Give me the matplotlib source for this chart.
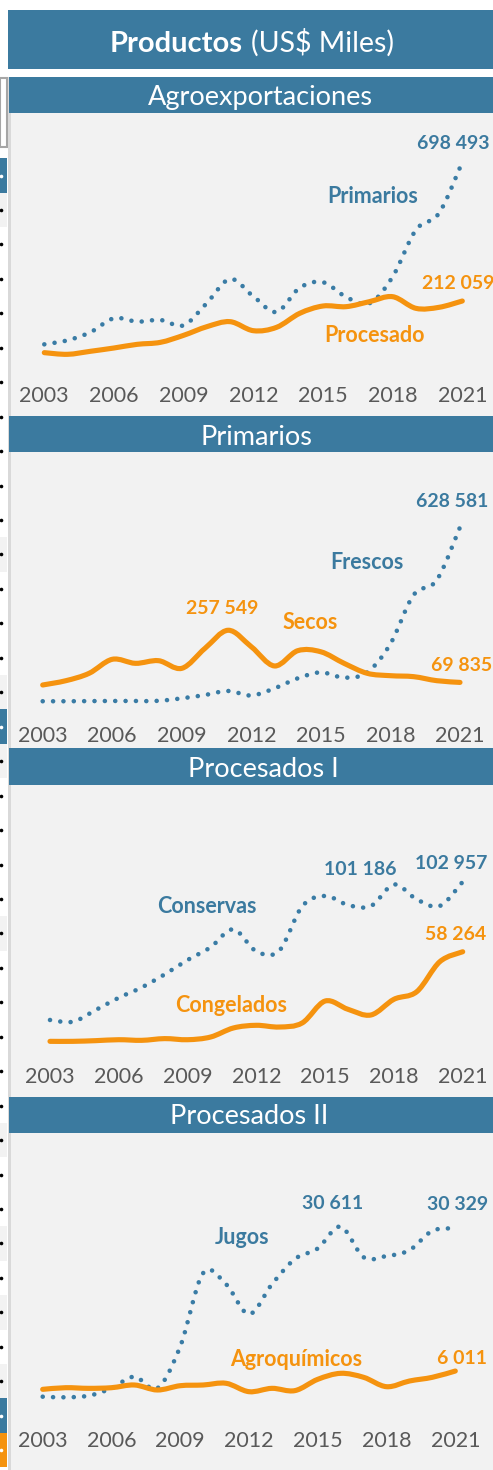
import matplotlib
matplotlib.use("Agg")
import matplotlib.pyplot as plt
from matplotlib.path import Path
from matplotlib.patches import PathPatch, Rectangle
import numpy as np

# ---------------- data (US$ miles) ----------------
years = list(range(2003, 2022))
tick_years = [2003, 2006, 2009, 2012, 2015, 2018, 2021]

agro_primarios = [60400, 74400, 103600, 151700, 139800, 145600, 127000, 205000, 289000,
                  228600, 173600, 258600, 277600, 226000, 204000, 297000, 460600, 520000, 698493]
agro_procesado = [31300, 25500, 36200, 47600, 60400, 67400, 92000, 122200, 139800,
                  108200, 119900, 169000, 194600, 192300, 209800, 227200, 186500, 190000, 212059]

prim_frescos = [2000, 2000, 2500, 3000, 3000, 3500, 12600, 24500, 39000,
                23000, 48500, 84500, 106000, 87000, 106000, 209000, 384500, 438500, 628581]
prim_secos = [60500, 76000, 102500, 153000, 138500, 148000, 120500, 192500, 257549,
              198000, 129000, 184000, 180000, 138500, 102500, 94000, 90500, 76000, 69835]

proc1_conservas = [14700, 13600, 21100, 28900, 35500, 43800, 53000, 61100, 72600,
                   58500, 59000, 87300, 93900, 88100, 87500, 101186, 91700, 87500, 102957]
proc1_congelados = [1060, 1060, 1500, 2100, 1700, 2800, 2100, 3800, 9600,
                    11300, 10200, 12800, 26800, 21500, 17900, 27900, 32800, 51900, 58264]

proc2_jugos = [1640, 1530, 1810, 3070, 5050, 3070, 10200, 22700, 20800,
               15700, 20800, 25100, 26900, 30611, 25400, 25600, 26600, 29900, 30329]
proc2_agroquimicos = [2890, 3170, 3060, 3170, 3630, 2780, 3510, 3630, 3920,
                      2490, 3060, 2670, 4600, 5620, 4940, 3340, 4310, 4940, 6011]

# ---------------- style ----------------
W, H = 493, 1470
BLUE = "#3B7A9F"
BLUE_LINE = "#3A7CA5"
ORANGE = "#F5930F"
GRAY_TXT = "#595959"
BG = "#F2F2F2"

plt.rcParams['font.family'] = ['Lato', 'DejaVu Sans']

fig = plt.figure(figsize=(W / 100, H / 100), dpi=100)
fig.patch.set_facecolor("white")

bg = fig.add_axes([0, 0, 1, 1])
bg.set_xlim(0, W)
bg.set_ylim(H, 0)
bg.axis("off")

# left cropped table strip
bg.add_patch(Rectangle((0, 78), 7, 69, fc="white", ec="#A6A6A6", lw=1.5))
row_h = 34.45
blue_rows = {0, 16, 36}
orange_rows = {37}
gray_rows = {1, 11, 15, 17, 22, 28, 31, 33, 35}
for k in range(38):
    c = 175.5 + row_h * k
    if k in blue_rows:
        fc, dc = BLUE, "white"
    elif k in orange_rows:
        fc, dc = ORANGE, "white"
    elif k in gray_rows:
        fc, dc = BG, "black"
    else:
        fc, dc = "white", "black"
    bg.add_patch(Rectangle((0, c - row_h / 2), 7, row_h, fc=fc, ec="none"))
    bg.plot([1.0], [c], marker="o", ms=2.6, color=dc, mec="none")

# panel background and left border
bg.add_patch(Rectangle((10, 77), 483, H - 77, fc=BG, ec="none"))
bg.add_patch(Rectangle((8, 77), 3, H - 77, fc="#D9D9D9", ec="none"))

# main header
bg.add_patch(Rectangle((8, 10), 485, 59, fc=BLUE, ec="none"))
bg.text(243, 52, "Productos", ha="right", va="baseline", color="white",
        fontsize=21, fontweight="bold")
bg.text(251, 52, "(US$ Miles)", ha="left", va="baseline", color="white",
        fontsize=20.5)

# panel headers
headers = [("Agroexportaciones", 77, 36, 260, 105),
           ("Primarios", 416, 36, 256, 445),
           ("Procesados I", 748, 37, 263, 777),
           ("Procesados II", 1097, 36, 249, 1124)]
for txt, y, h, cx, base in headers:
    bg.add_patch(Rectangle((9, y), 484, h, fc=BLUE, ec="none"))
    bg.text(cx, base, txt, ha="center", va="baseline", color="white", fontsize=19.5)


def smooth_path(x, y):
    x = np.asarray(x, float)
    y = np.asarray(y, float)
    n = len(x)
    verts = [(x[0], y[0])]
    codes = [Path.MOVETO]
    for i in range(n - 1):
        a = i - 1 if i > 0 else 0
        b = i + 2 if i + 2 < n else n - 1
        c1 = (x[i] + (x[i + 1] - x[a]) / 6, y[i] + (y[i + 1] - y[a]) / 6)
        c2 = (x[i + 1] - (x[b] - x[i]) / 6, y[i + 1] - (y[b] - y[i]) / 6)
        verts += [c1, c2, (x[i + 1], y[i + 1])]
        codes += [Path.CURVE4] * 3
    return Path(verts, codes)


def chart(x_first, x_last, y_zero, per_px):
    hpx = 260
    ax = fig.add_axes([x_first / W, (H - y_zero) / H, (x_last - x_first) / W, hpx / H])
    ax.set_xlim(2003, 2021)
    ax.set_ylim(0, per_px * hpx)
    ax.patch.set_visible(False)
    for s in ax.spines.values():
        s.set_visible(False)
    ax.set_yticks([])
    ax.set_xticks(tick_years)
    ax.set_xticklabels([str(t) for t in tick_years])
    ax.tick_params(axis="x", length=0, pad=17.5, labelsize=15.5, labelcolor=GRAY_TXT)
    return ax


def draw(ax, vals, kind):
    p = smooth_path(years, vals)
    if kind == "dot":
        patch = PathPatch(p, fill=False, ec=BLUE_LINE, lw=3.3,
                          linestyle=(0, (0.01, 2.25)), capstyle="round",
                          joinstyle="round", clip_on=False)
    else:
        patch = PathPatch(p, fill=False, ec=ORANGE, lw=3.7, capstyle="round",
                          joinstyle="round", clip_on=False)
    ax.add_patch(patch)


def vlabel(ax, year, val, dx, dy, color):
    ax.annotate(f"{val:,}".replace(",", " "), xy=(year, val), xytext=(dx, dy),
                textcoords="offset pixels", ha="center", va="center",
                color=color, fontsize=14, fontweight="bold", annotation_clip=False)


def tlabel(x, y, txt, color):
    bg.text(x, y, txt, ha="center", va="center", color=color, fontsize=15.5,
            fontweight="bold")


# Panel 1
ax1 = chart(44.3, 462.3, 361.6, 3500)
draw(ax1, agro_primarios, "dot")
draw(ax1, agro_procesado, "solid")
vlabel(ax1, 2021, agro_primarios[-1], -9, 19, BLUE)
vlabel(ax1, 2021, agro_procesado[-1], -4, 18, ORANGE)
tlabel(373, 196, "Primarios", BLUE)
tlabel(374, 335, "Procesado", ORANGE)

# Panel 2
ax2 = chart(42.7, 460.0, 701.8, 3600)
draw(ax2, prim_frescos, "dot")
draw(ax2, prim_secos, "solid")
vlabel(ax2, 2021, prim_frescos[-1], -8, 26, BLUE)
vlabel(ax2, 2011, prim_secos[8], -6, 22, ORANGE)
vlabel(ax2, 2021, prim_secos[-1], 2, 17, ORANGE)
tlabel(367, 562, "Frescos", BLUE)
tlabel(310, 622, "Secos", ORANGE)

# Panel 3
ax3 = chart(50.0, 462.7, 1043.0, 638.5)
draw(ax3, proc1_conservas, "dot")
draw(ax3, proc1_congelados, "solid")
vlabel(ax3, 2018, proc1_conservas[15], -34, 15, BLUE)
vlabel(ax3, 2021, proc1_conservas[-1], -12, 18, BLUE)
vlabel(ax3, 2021, proc1_congelados[-1], -7, 17, ORANGE)
tlabel(207, 906, "Conservas", BLUE)
tlabel(231, 1005, "Congelados", ORANGE)

# Panel 4
ax4 = chart(42.7, 455.3, 1406.3, 170.4)
draw(ax4, proc2_jugos, "dot")
draw(ax4, proc2_agroquimicos, "solid")
vlabel(ax4, 2016, proc2_jugos[13], -8, 23, BLUE)
vlabel(ax4, 2021, proc2_jugos[-1], 2, 24, BLUE)
vlabel(ax4, 2021, proc2_agroquimicos[-1], 7, 13, ORANGE)
tlabel(242, 1238, "Jugos", BLUE)
tlabel(296, 1360, "Agroquímicos", ORANGE)

fig.savefig("out.png", dpi=100, facecolor="white")
